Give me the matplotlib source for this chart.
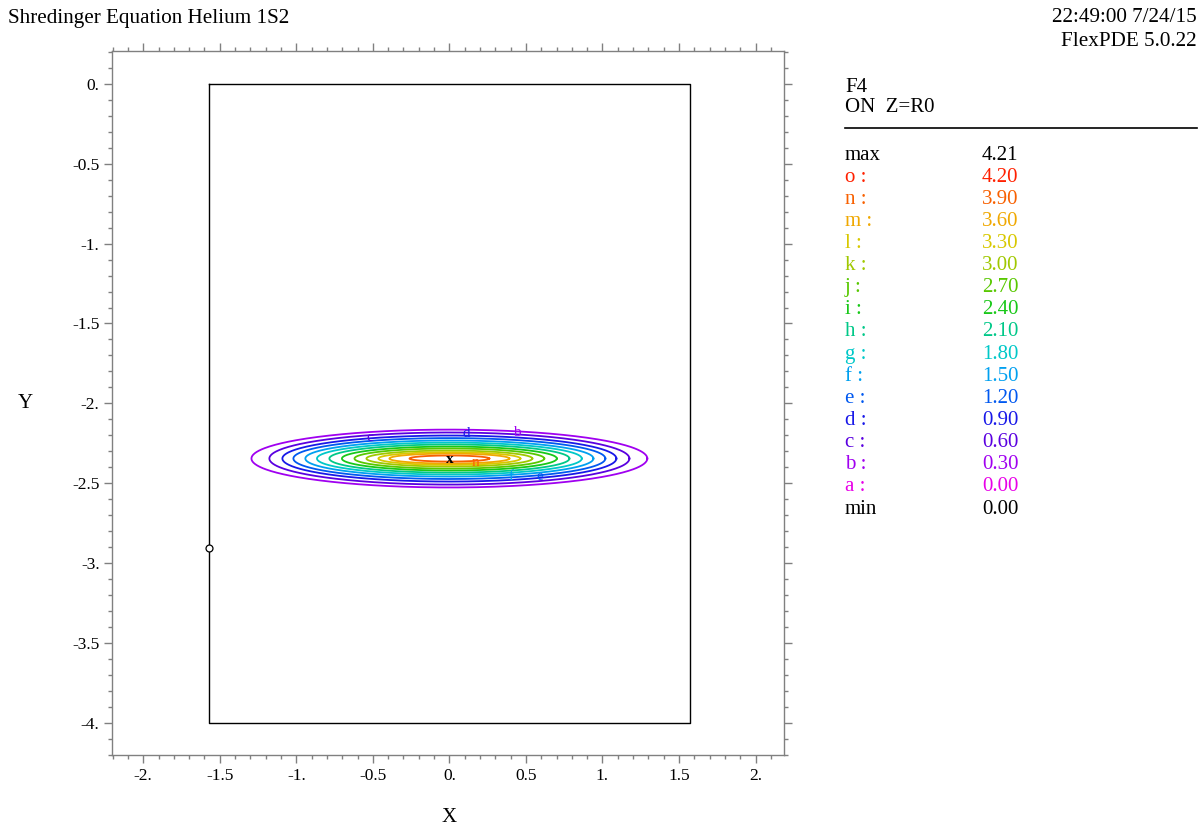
import numpy as np
import matplotlib
matplotlib.use("Agg")
import matplotlib.pyplot as plt
from matplotlib.ticker import MultipleLocator, FuncFormatter

# ---- data ----
level_names = ["a", "b", "c", "d", "e", "f", "g", "h", "i", "j", "k", "l", "m", "n", "o"]
level_values = [0.00, 0.30, 0.60, 0.90, 1.20, 1.50, 1.80, 2.10, 2.40, 2.70, 3.00, 3.30, 3.60, 3.90, 4.20]
level_colors = ["#e800e8", "#a000f0", "#5a00e0", "#1818e8", "#0058f0", "#00a0f0", "#00c8c8",
                "#00c888", "#18c818", "#58c800", "#a0c800", "#d8c800", "#f0a800", "#f86000", "#ff2000"]
field_max = 4.21
field_min = 0.00

# drawn contours (b .. n): half-width in X, half-height in Y around the centre
contour_levels = [0.30, 0.60, 0.90, 1.20, 1.50, 1.80, 2.10, 2.40, 2.70, 3.00, 3.30, 3.60, 3.90]
contour_half_w = [1.293, 1.176, 1.091, 1.019, 0.941, 0.865, 0.784, 0.702, 0.620, 0.542, 0.464, 0.392, 0.261]
contour_half_h = [0.181, 0.163, 0.144, 0.128, 0.113, 0.100, 0.088, 0.075, 0.063, 0.050, 0.040, 0.031, 0.019]
center_x, center_y = 0.0, -2.345

domain_x = [-1.5708, 1.5708]
domain_y = [-4.0, 0.0]
probe_point = (-1.5708, -2.906)

label_letters = ["c", "d", "b", "f", "e", "n"]
label_x = [-0.52, 0.11, 0.44, 0.40, 0.59, 0.17]
label_y = [-2.215, -2.19, -2.185, -2.46, -2.455, -2.372]

# ---- figure ----
W, H = 1204, 827
fig = plt.figure(figsize=(W / 100, H / 100), dpi=100)
serif = "Liberation Serif"

def fx(px):
    return px / W

def fy(py):
    return 1 - py / H

ax = fig.add_axes([fx(112), fy(755), fx(784) - fx(112), fy(51) - fy(755)])
ax.set_xlim(-2.204, 2.186)
ax.set_ylim(-4.2, 0.205)

# domain boundary
ax.plot([domain_x[0], domain_x[1], domain_x[1], domain_x[0], domain_x[0]],
        [domain_y[1], domain_y[1], domain_y[0], domain_y[0], domain_y[1]],
        color="black", lw=1.0)
ax.plot([probe_point[0]], [probe_point[1]], marker="o", ms=5, mfc="white", mec="black", mew=0.9)

# contours
t = np.linspace(0, 2 * np.pi, 400)
col_of = dict(zip(level_values, level_colors))
for lv, hw, hh in zip(contour_levels, contour_half_w, contour_half_h):
    ax.plot(center_x + hw * np.cos(t), center_y + hh * np.sin(t), color=col_of[lv], lw=1.3)

name_col = dict(zip(level_names, level_colors))
for L, x, y in zip(label_letters, label_x, label_y):
    ax.text(x, y, L, color=name_col[L], fontsize=11, family=serif, ha="center", va="center")
ax.text(center_x, center_y - 0.008, "x", color="black", fontsize=11, family=serif,
        weight="bold", ha="center", va="center")

# axes styling
gray = "#808080"
for s in ax.spines.values():
    s.set_color(gray)
    s.set_linewidth(1.0)
ax.xaxis.set_major_locator(MultipleLocator(0.5))
ax.xaxis.set_minor_locator(MultipleLocator(0.1))
ax.yaxis.set_major_locator(MultipleLocator(0.5))
ax.yaxis.set_minor_locator(MultipleLocator(0.1))

def fmt(v, pos):
    if abs(v - round(v)) < 1e-9:
        return "%d." % int(round(v)) if round(v) != 0 else "0."
    return ("%g" % v)

ax.xaxis.set_major_formatter(FuncFormatter(fmt))
ax.yaxis.set_major_formatter(FuncFormatter(fmt))
ax.tick_params(which="both", direction="out", color=gray, top=True, right=True,
               labeltop=False, labelright=False)
ax.tick_params(which="major", length=6, width=1.0, labelsize=12.5, pad=3)
ax.tick_params(which="minor", length=3, width=1.0)
for lab in ax.get_xticklabels() + ax.get_yticklabels():
    lab.set_family(serif)

# axis titles
fig.text(fx(449), fy(818), "X", family=serif, fontsize=15, ha="center", va="center")
fig.text(fx(25), fy(403), "Y", family=serif, fontsize=15, ha="center", va="center")

# header
fig.text(fx(8), fy(18), "Shredinger Equation Helium 1S2", family=serif, fontsize=15.2,
         ha="left", va="center")
fig.text(fx(1197), fy(18), "22:49:00 7/24/15", family=serif, fontsize=15.2, ha="right", va="center")
fig.text(fx(1197), fy(41), "FlexPDE 5.0.22", family=serif, fontsize=15.2, ha="right", va="center")

# legend panel
fig.text(fx(845), fy(87), "F4", family=serif, fontsize=15, ha="left", va="center")
fig.text(fx(845), fy(108), "ON  Z=R0", family=serif, fontsize=15, ha="left", va="center")
fig.add_artist(plt.Line2D([fx(845), fx(1197)], [fy(128), fy(128)], color="black", lw=1.2,
                          transform=fig.transFigure))

rows = [("max", "%.2f" % field_max, "black")]
for n, v, c in zip(level_names[::-1], level_values[::-1], level_colors[::-1]):
    rows.append((n + " :", "%.2f" % v, c))
rows.append(("min", "%.2f" % field_min, "black"))
y0, dy = 155, 22.125
for k, (a, b, c) in enumerate(rows):
    yy = y0 + k * dy
    fig.text(fx(845), fy(yy), a, color=c, family=serif, fontsize=15, ha="left", va="center")
    fig.text(fx(982), fy(yy), b, color=c, family=serif, fontsize=15, ha="left", va="center")

fig.savefig("out.png", dpi=100)
